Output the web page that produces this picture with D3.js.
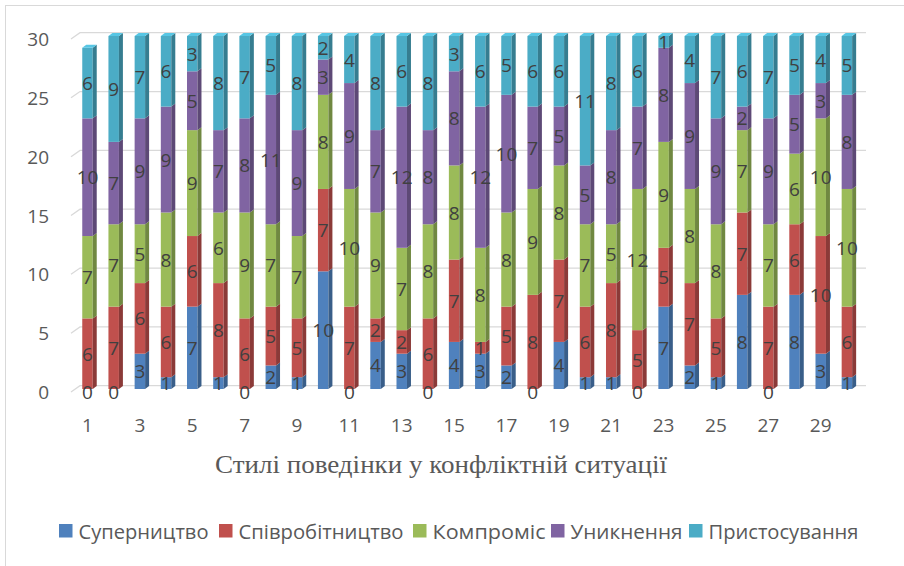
<!DOCTYPE html>
<html>
<head>
<meta charset="utf-8">
<script src="https://cdn.jsdelivr.net/npm/d3@7"></script>
<style>
  body { margin: 0; background: #fff; }
  svg { display: block; }
</style>
</head>
<body>
<script>
(function(){
  var width = 904, height = 566;

  // respondents 1..30
  var categories = d3.range(1, 31);
  var seriesNames = ["Суперництво", "Співробітництво", "Компроміс", "Уникнення", "Пристосування"];
  var colors = ["#4F81BD", "#C0504D", "#9BBB59", "#8064A2", "#4BACC6"];

  var rivalry     = [0,0,3,1,7,1,0,2,1,10,0,4,3,0,4,3,2,0,4,1,1,0,7,2,1,8,0,8,3,1];
  var cooperation = [6,7,6,6,6,8,6,5,5,7,7,2,2,6,7,1,5,8,7,6,8,5,5,7,5,7,7,6,10,6];
  var compromise  = [7,7,5,8,9,6,9,7,7,8,10,9,7,8,8,8,8,9,8,7,5,12,9,8,8,7,7,6,10,10];
  var avoidance   = [10,7,9,9,5,7,8,11,9,3,9,7,12,8,8,12,10,7,5,5,8,7,8,9,9,2,9,5,3,8];
  var adaptation  = [6,9,7,6,3,8,7,5,8,2,4,8,6,8,3,6,5,6,6,11,8,6,1,4,7,6,7,5,4,5];

  var yTicks = [0, 5, 10, 15, 20, 25, 30];
  var xTicks = d3.range(1, 31, 2);

  var seriesValues = [rivalry, cooperation, compromise, avoidance, adaptation];

  var svg = d3.select("body").append("svg")
    .attr("width", width)
    .attr("height", height);

  // chart frame (right and bottom edges run off the picture)
  svg.append("rect")
    .attr("x", 5.5).attr("y", 5.5)
    .attr("width", width).attr("height", height + 20)
    .attr("fill", "none")
    .attr("stroke", "#d9d9d9");

  var x = d3.scaleBand().domain(categories)
    .range([74.4, 860])
    .paddingInner(0.6)
    .paddingOuter(0.3);

  var y = d3.scaleLinear().domain([0, 30]).range([389, 36]);

  var depthX = 4, depthY = 3;

  // back-wall gridlines with short floor-side diagonal
  var grid = svg.append("g");
  yTicks.forEach(function(t) {
    var yy = y(t);
    grid.append("path")
      .attr("d", "M71," + (yy + 3) + "L80," + (yy - 3.3) + "L866," + (yy - 3.3))
      .attr("fill", "none")
      .attr("stroke", "#d9d9d9")
      .attr("stroke-width", 1.3);
  });

  // y axis labels
  svg.append("g").selectAll("text").data(yTicks).enter().append("text")
    .attr("x", 49)
    .attr("y", function(d) { return y(d) + 3; })
    .attr("text-anchor", "end")
    .attr("dominant-baseline", "central")
    .attr("font-family", "Open Sans, sans-serif")
    .attr("font-size", 19)
    .attr("fill", "#595959")
    .text(function(d) { return d; });

  // x axis labels
  svg.append("g").selectAll("text").data(xTicks).enter().append("text")
    .attr("x", function(d) { return x(d) + x.bandwidth() / 2; })
    .attr("y", 425)
    .attr("text-anchor", "middle")
    .attr("dominant-baseline", "central")
    .attr("font-family", "Open Sans, sans-serif")
    .attr("font-size", 19)
    .attr("fill", "#595959")
    .text(function(d) { return d; });

  // stack data
  var rows = categories.map(function(c, i) {
    var r = { cat: c };
    seriesNames.forEach(function(s, k) { r[s] = seriesValues[k][i]; });
    return r;
  });
  var stacked = d3.stack().keys(seriesNames)(rows);

  var bars = svg.append("g");
  var bw = x.bandwidth();

  stacked.forEach(function(layer, k) {
    var col = d3.rgb(colors[k]);
    var side = col.darker(0.9);
    var top = col.brighter(0.4);
    layer.forEach(function(d, i) {
      var x0 = x(categories[i]);
      var yTop = y(d[1]), yBot = y(d[0]);
      if (d[1] - d[0] <= 0) return;
      var g = bars.append("g");
      g.append("rect")
        .attr("x", x0).attr("y", yTop)
        .attr("width", bw).attr("height", yBot - yTop)
        .attr("fill", col);
      g.append("path")
        .attr("d", "M" + (x0 + bw) + "," + yTop +
                   "L" + (x0 + bw + depthX) + "," + (yTop - depthY) +
                   "L" + (x0 + bw + depthX) + "," + (yBot - depthY) +
                   "L" + (x0 + bw) + "," + yBot + "Z")
        .attr("fill", side);
      // top face only where no segment sits above
      var above = 0;
      for (var j = k + 1; j < seriesNames.length; j++) above += seriesValues[j][i];
      if (above === 0) {
        g.append("path")
          .attr("d", "M" + x0 + "," + yTop +
                     "L" + (x0 + depthX) + "," + (yTop - depthY) +
                     "L" + (x0 + bw + depthX) + "," + (yTop - depthY) +
                     "L" + (x0 + bw) + "," + yTop + "Z")
          .attr("fill", top);
      }
    });
  });

  // data labels
  var labels = svg.append("g");
  stacked.forEach(function(layer, k) {
    layer.forEach(function(d, i) {
      var v = d[1] - d[0];
      var cy = v === 0 ? y(d[0]) + 3 : y((d[0] + d[1]) / 2);
      labels.append("text")
        .attr("x", x(categories[i]) + bw / 2)
        .attr("y", cy)
        .attr("text-anchor", "middle")
        .attr("dominant-baseline", "central")
        .attr("font-family", "Open Sans, sans-serif")
        .attr("font-size", 19)
        .attr("fill", "#404040")
        .text(v);
    });
  });

  // axis title
  svg.append("text")
    .attr("x", 441)
    .attr("y", 464)
    .attr("text-anchor", "middle")
    .attr("dominant-baseline", "central")
    .attr("font-family", "Liberation Serif, Times New Roman, serif")
    .attr("font-size", 25)
    .attr("fill", "#595959")
    .attr("textLength", 452)
    .attr("lengthAdjust", "spacingAndGlyphs")
    .text("Стилі поведінки у конфліктній ситуації");

  // legend
  var legendX = [59, 219, 413, 551, 689];
  var legendW = [130, 165, 113, 112, 150];
  var legend = svg.append("g");
  seriesNames.forEach(function(name, k) {
    legend.append("rect")
      .attr("x", legendX[k]).attr("y", 524)
      .attr("width", 13.5).attr("height", 13.5)
      .attr("fill", colors[k]);
    legend.append("text")
      .attr("x", legendX[k] + 19.5)
      .attr("y", 531)
      .attr("dominant-baseline", "central")
      .attr("font-family", "Open Sans, sans-serif")
      .attr("font-size", 20.5)
      .attr("fill", "#595959")
      .attr("textLength", legendW[k])
      .attr("lengthAdjust", "spacingAndGlyphs")
      .text(name);
  });
})();
</script>
</body>
</html>
